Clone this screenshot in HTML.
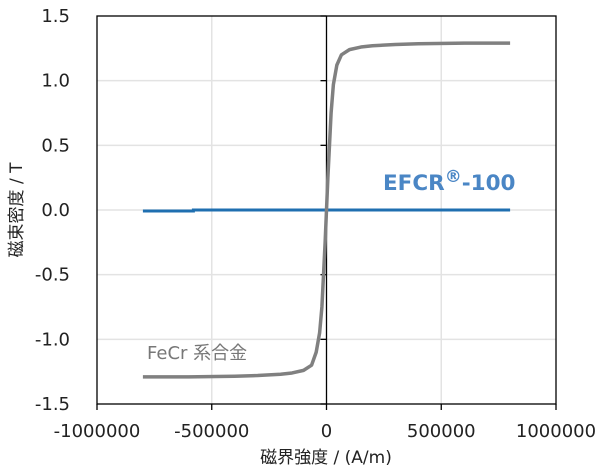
<!DOCTYPE html>
<html><head><meta charset="utf-8"><style>
body{margin:0;background:#fff;}
svg text{font-family:"DejaVu Sans","Noto Sans CJK JP",sans-serif;}
</style></head><body>
<svg id="chart" width="600" height="471" viewBox="0 0 600 471"></svg>
<script>
const xTicks=[-1000000,-500000,0,500000,1000000];
const yTicks=[1.5,1.0,0.5,0.0,-0.5,-1.0,-1.5];
const yTickLabels=["1.5","1.0","0.5","0.0","-0.5","-1.0","-1.5"];
const fecrH=[-800000,-600000,-400000,-300000,-200000,-150000,-100000,-65000,-45000,-30000,-20000,-13000,-6000,0,6000,13000,20000,30000,45000,65000,100000,150000,200000,300000,400000,600000,800000];
const fecrB=[-1.29,-1.29,-1.285,-1.28,-1.27,-1.26,-1.24,-1.2,-1.1,-0.95,-0.75,-0.5,-0.25,0,0.25,0.5,0.75,0.97,1.12,1.2,1.24,1.26,1.27,1.28,1.285,1.29,1.29];
const efcrH=[-800000,-580000,-580000,800000];
const efcrB=[-0.008,-0.008,0,0];
const X0=97,X1=556,Y0=16,Y1=404;
const sx=v=>X0+(v+1000000)/2000000*(X1-X0);
const sy=v=>Y0+(1.5-v)/3*(Y1-Y0);
const svg=document.getElementById('chart');
const NS='http://www.w3.org/2000/svg';
function mk(t,a){const e=document.createElementNS(NS,t);for(const k in a)e.setAttribute(k,a[k]);svg.appendChild(e);return e;}
xTicks.forEach(v=>{if(v!==0&&Math.abs(v)<1000000){const g=mk('line',{x1:sx(v),x2:sx(v),y1:Y0,y2:Y1,stroke:'#e3e3e3','stroke-width':1.5});

}});
yTicks.forEach(v=>{if(Math.abs(v)<1.5){const g=mk('line',{x1:X0,x2:X1,y1:sy(v),y2:sy(v),stroke:'#e3e3e3','stroke-width':1.5});

}});
const fr=mk('rect',{x:X0,y:Y0,width:X1-X0,height:Y1-Y0,fill:'none',stroke:'#000','stroke-width':1.3});


const ya=mk('line',{x1:sx(0),x2:sx(0),y1:Y0,y2:Y1,stroke:'#000','stroke-width':1.3});


yTicks.forEach((v,i)=>{const t=mk('line',{x1:sx(0)-6,x2:sx(0),y1:sy(v),y2:sy(v),stroke:'#000','stroke-width':1.3});


const l=mk('text',{x:70,y:sy(v)+6,'text-anchor':'end','font-size':18,fill:'#222'});l.textContent=yTickLabels[i];

});
xTicks.forEach(v=>{const t=mk('line',{x1:sx(v),x2:sx(v),y1:Y1,y2:Y1+6,stroke:'#000','stroke-width':1.3});


const l=mk('text',{x:sx(v),y:Y1+33,'text-anchor':'middle','font-size':18,fill:'#222'});l.textContent=String(v);

});
const ep=mk('polyline',{points:efcrH.map((h,i)=>sx(h)+','+sy(efcrB[i])).join(' '),fill:'none',stroke:'#1f6fb0','stroke-width':3});


const fp=mk('polyline',{points:fecrH.map((h,i)=>sx(h)+','+sy(fecrB[i])).join(' '),fill:'none',stroke:'#808080','stroke-width':3.5,'stroke-linejoin':'round'});


const el=mk('text',{x:383,y:190,'font-size':21.5,'font-weight':'bold',fill:'#4a86c5'});
el.innerHTML='EFCR<tspan dy="-8" font-size="17">®</tspan><tspan dy="8">-100</tspan>';


const fl=mk('text',{x:147,y:359,'font-size':18,fill:'#777'});fl.textContent='FeCr 系合金';


const xt=mk('text',{x:326,y:463,'text-anchor':'middle','font-size':17,fill:'#222'});xt.textContent='磁界強度 / (A/m)';


const yt=mk('text',{x:0,y:0,'text-anchor':'middle','font-size':17,fill:'#222',transform:'translate(22,210) rotate(-90)'});yt.textContent='磁束密度 / T';


</script>
</body></html>
